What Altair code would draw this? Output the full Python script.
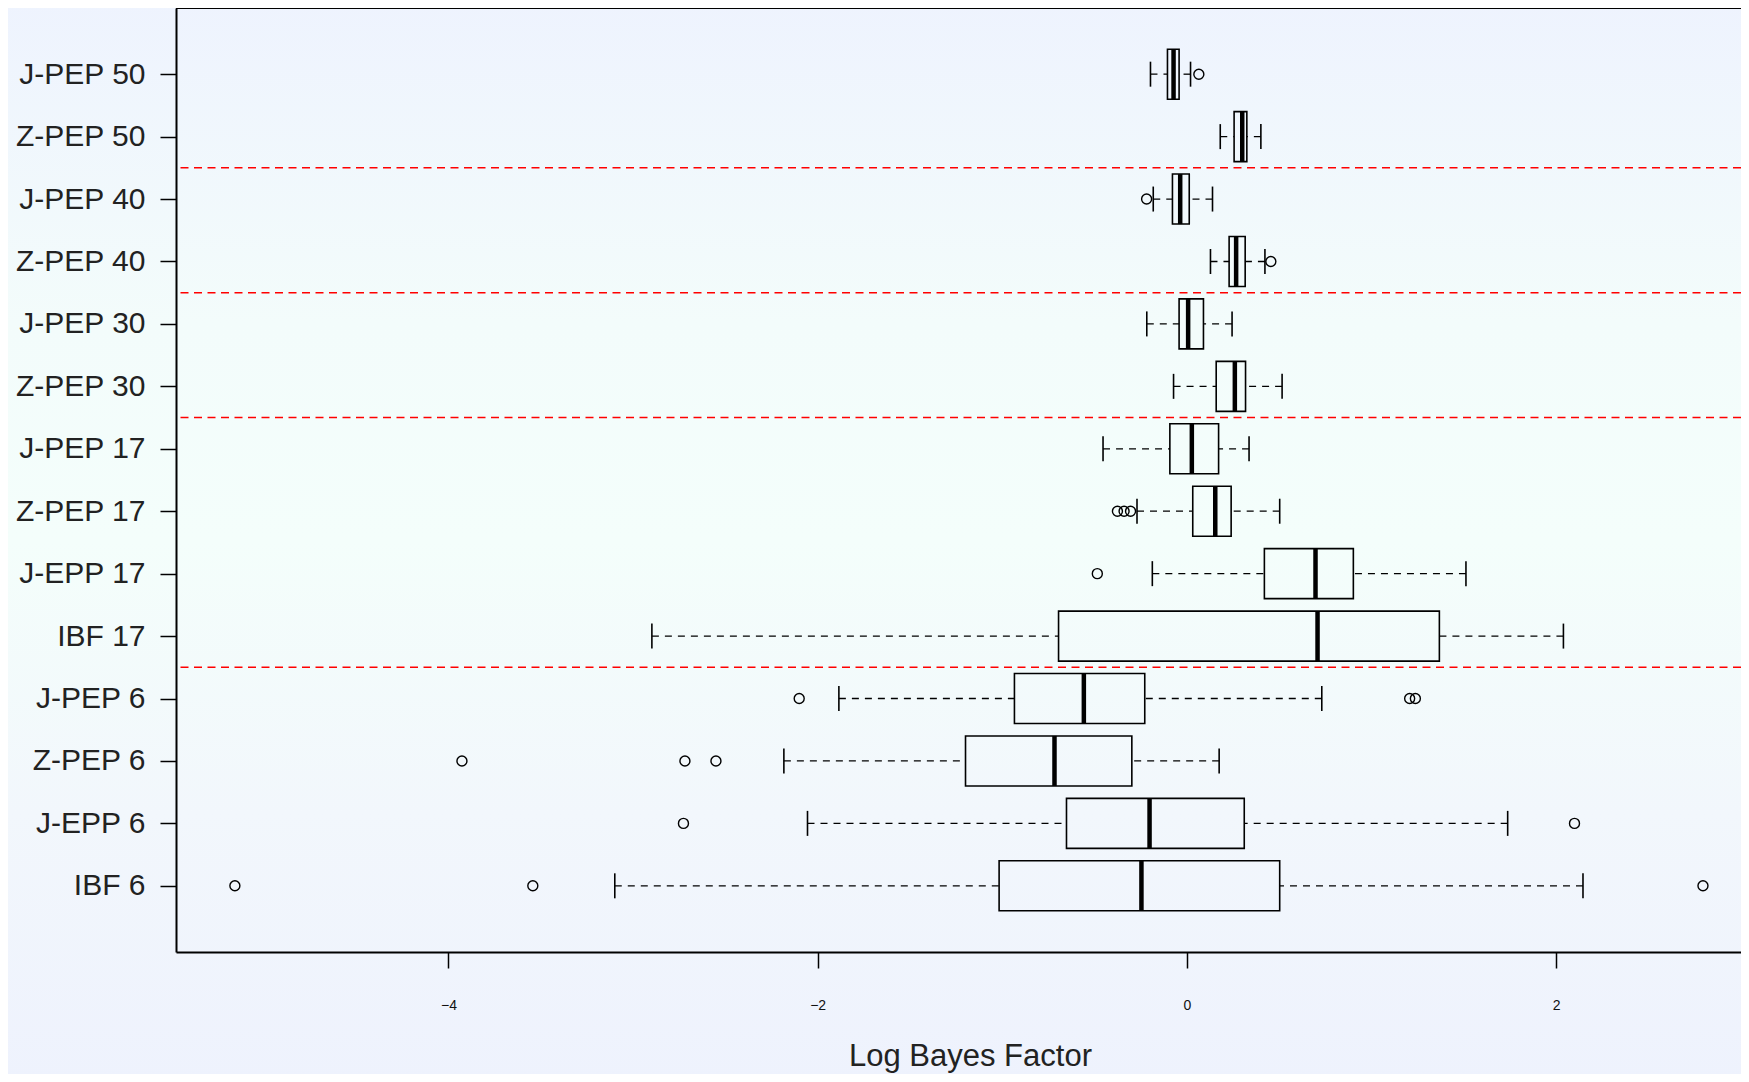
import json
import altair as alt
import pandas as pd

# ---------------- data ----------------
categories = ["IBF 6", "J-EPP 6", "Z-PEP 6", "J-PEP 6", "IBF 17", "J-EPP 17", "Z-PEP 17",
              "J-PEP 17", "Z-PEP 30", "J-PEP 30", "Z-PEP 40", "J-PEP 40", "Z-PEP 50", "J-PEP 50"]
whisker_low = [-3.099, -2.055, -2.183, -1.885, -2.898, -0.187, -0.270,
               -0.454, -0.072, -0.217, 0.128, -0.182, 0.181, -0.197]
q1 = [-1.017, -0.652, -1.199, -0.934, -0.695, 0.420, 0.032,
      -0.092, 0.159, -0.042, 0.229, -0.078, 0.256, -0.105]
median = [-0.246, -0.202, -0.717, -0.558, 0.708, 0.697, 0.154,
          0.027, 0.260, 0.007, 0.267, -0.036, 0.300, -0.072]
q3 = [0.503, 0.311, -0.298, -0.228, 1.368, 0.902, 0.240,
      0.172, 0.318, 0.090, 0.316, 0.013, 0.325, -0.042]
whisker_high = [2.146, 1.738, 0.175, 0.731, 2.040, 1.512, 0.503,
                0.337, 0.516, 0.245, 0.423, 0.139, 0.401, 0.020]

outlier_group = ["IBF 6", "IBF 6", "IBF 6", "J-EPP 6", "J-EPP 6", "Z-PEP 6", "Z-PEP 6", "Z-PEP 6",
                 "J-PEP 6", "J-PEP 6", "J-PEP 6", "J-EPP 17", "Z-PEP 17", "Z-PEP 17", "Z-PEP 17",
                 "Z-PEP 40", "J-PEP 40", "J-PEP 50"]
outlier_value = [-5.157, -3.543, 2.796, -2.727, 2.100, -3.927, -2.719, -2.551,
                 -2.100, 1.207, 1.238, -0.485, -0.376, -0.340, -0.305,
                 0.455, -0.218, 0.065]

group_breaks = [4.5, 8.5, 10.5, 12.5]
x_ticks = [-4, -2, 0, 2]

# ---------------- tables ----------------
positions = list(range(1, len(categories) + 1))
box_df = pd.DataFrame({"group": categories, "pos": positions, "q1": q1,
                       "median": median, "q3": q3})
whisk_df = pd.DataFrame({
    "pos": positions + positions,
    "start": whisker_low + whisker_high,
    "end": q1 + q3,
})
cap_df = pd.DataFrame({"pos": positions + positions, "x": whisker_low + whisker_high})
out_df = pd.DataFrame({"pos": [categories.index(g) + 1 for g in outlier_group],
                       "value": outlier_value})
brk_df = pd.DataFrame({"brk": group_breaks})
one = pd.DataFrame({"a": [0]})

W, H = 1565, 944
PAD_L, PAD_B = 168, 122
FONT = "Liberation Sans"

xs = alt.Scale(domain=[-5.476, 3.002], nice=False, zero=False, padding=0)
ys = alt.Scale(domain=[-0.06, 15.06], nice=False, zero=False, padding=0)

label_expr = json.dumps([""] + categories) + "[datum.value]"

x_axis = alt.Axis(values=x_ticks, tickSize=16, tickWidth=1.5, tickColor="black",
                  domainColor="black", domainWidth=2, grid=False, zindex=1,
                  labelFont=FONT, labelFontSize=14, labelColor="#111111",
                  labelBaseline="middle", labelPadding=37, labelOverlap=False,
                  title="Log Bayes Factor", titleFont=FONT, titleFontSize=31,
                  titleFontWeight="normal", titleColor="#222222",
                  titleX=794, titleY=113, titleBaseline="alphabetic", titleAlign="center")
y_axis = alt.Axis(values=positions, labelExpr=label_expr, tickSize=16, tickWidth=1.5,
                  tickColor="black", domainColor="black", domainWidth=2, grid=False, zindex=1,
                  labelFont=FONT, labelFontSize=30, labelColor="#222222",
                  labelPadding=15, labelOverlap=False, title="")

bg = alt.Chart(one).mark_rect(
    color=alt.Gradient(
        gradient="linear", x1=0, x2=0, y1=0, y2=1,
        stops=[alt.GradientStop(color="#eef3fe", offset=0),
               alt.GradientStop(color="#f3fcfb", offset=0.3),
               alt.GradientStop(color="#f4fefb", offset=0.5),
               alt.GradientStop(color="#f2f7fc", offset=0.75),
               alt.GradientStop(color="#eef2fd", offset=1)])
).encode(x=alt.value(-PAD_L - 10), x2=alt.value(W + 20), y=alt.value(-10),
         y2=alt.value(H + PAD_B + 10))

red = alt.Chart(brk_df).mark_rule(color="#ff0000", strokeDash=[8, 5.5], strokeWidth=1.5).encode(
    y=alt.Y("brk:Q", scale=ys, axis=y_axis))

whisk = alt.Chart(whisk_df).mark_rule(color="black", strokeDash=[7, 6], strokeWidth=1.3).encode(
    x=alt.X("start:Q", scale=xs, axis=x_axis), x2="end:Q",
    y=alt.Y("pos:Q", scale=ys, axis=y_axis))

caps = alt.Chart(cap_df).mark_tick(orient="vertical", size=25, thickness=1.6, color="black",
                                   opacity=1).encode(
    x=alt.X("x:Q", scale=xs, axis=x_axis), y=alt.Y("pos:Q", scale=ys, axis=y_axis))

boxes = alt.Chart(box_df).mark_bar(orient="horizontal", size=50, fill="transparent",
                                   stroke="black", strokeWidth=1.6).encode(
    x=alt.X("q1:Q", scale=xs, axis=x_axis), x2="q3:Q",
    y=alt.Y("pos:Q", scale=ys, axis=y_axis))

meds = alt.Chart(box_df).mark_tick(orient="vertical", size=50, thickness=4.5, color="black",
                                   opacity=1).encode(
    x=alt.X("median:Q", scale=xs, axis=x_axis), y=alt.Y("pos:Q", scale=ys, axis=y_axis))

outs = alt.Chart(out_df).mark_point(shape="circle", size=100, filled=False, color="black",
                                    strokeWidth=1.4, opacity=1).encode(
    x=alt.X("value:Q", scale=xs, axis=x_axis), y=alt.Y("pos:Q", scale=ys, axis=y_axis))

top = alt.Chart(one).mark_rule(color="black", strokeWidth=2).encode(
    x=alt.value(0), x2=alt.value(W), y=alt.value(0))

chart = alt.layer(bg, red, whisk, caps, boxes, meds, outs, top).properties(
    width=W, height=H,
    autosize=alt.AutoSizeParams(type="none"),
    padding={"left": PAD_L, "top": 0, "right": 0, "bottom": PAD_B},
    background="#f1f6fd",
).configure_view(stroke="transparent")

chart.save("out.html", embed_options={"renderer": "svg", "actions": False})
